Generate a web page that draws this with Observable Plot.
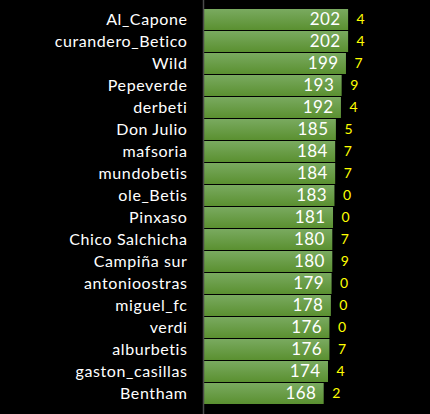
<!DOCTYPE html>
<html><head><meta charset="utf-8">
<script src="https://cdn.jsdelivr.net/npm/d3@7"></script>
<script src="https://cdn.jsdelivr.net/npm/@observablehq/plot@0.6"></script>
<style>html,body{margin:0;padding:0;background:#000;overflow:hidden}</style>
</head><body><div id="chart"></div>
<script>
const names = ["Al_Capone","curandero_Betico","Wild","Pepeverde","derbeti","Don Julio","mafsoria","mundobetis","ole_Betis","Pinxaso","Chico Salchicha","Campiña sur","antonioostras","miguel_fc","verdi","alburbetis","gaston_casillas","Bentham"];
const points = [202,202,199,193,192,185,184,184,183,181,180,180,179,178,176,176,174,168];
const extras = [4,4,7,9,4,5,7,7,0,0,7,9,0,0,0,7,4,2];
const data = names.map((name,i)=>({name, points: points[i], extra: extras[i]}));
const chart = Plot.plot({
  width:430, height:414, marginLeft:203, marginRight:0, marginTop:0, marginBottom:0,
  style:{background:"#000", fontFamily:"Lato, sans-serif", overflow:"visible"},
  x:{domain:[0,316], axis:null},
  y:{domain:names, padding:0.03, axis:null},
  marks:[
    Plot.barX(data,{y:"name", x:"points", fill:"url(#barGrad)"}),
    Plot.ruleX([0],{stroke:"#4a4a4a", strokeWidth:1.5}),
    Plot.text(data,{y:"name", x:0, text:"name", textAnchor:"end", dx:-16, fill:"white", fontSize:16}),
    Plot.text(data,{y:"name", x:"points", text:d=>String(d.points), textAnchor:"end", dx:-8, fill:"white", fontSize:17}),
    Plot.text(data,{y:"name", x:"points", text:d=>String(d.extra), textAnchor:"start", dx:8, fill:"#ffff00", fontSize:14})
  ]
});
const ns = "http://www.w3.org/2000/svg";
const defs = document.createElementNS(ns,"defs");
defs.innerHTML = '<linearGradient id="barGrad" x1="0" y1="0" x2="0" y2="1"><stop offset="0" stop-color="#7aaa60"/><stop offset="1" stop-color="#5a9030"/></linearGradient>';
chart.insertBefore(defs, chart.firstChild);
const textGroups = chart.querySelectorAll('g[aria-label="text"]');
if (textGroups.length) textGroups[0].setAttribute("letter-spacing", "0.6");
if (textGroups.length > 1) textGroups[1].setAttribute("letter-spacing", "0.4");
document.getElementById("chart").appendChild(chart);
</script>
</body></html>
